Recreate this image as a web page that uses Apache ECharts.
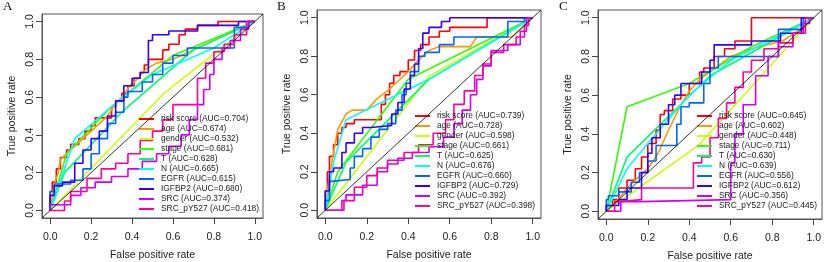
<!DOCTYPE html>
<html>
<head>
<meta charset="utf-8">
<script src="https://cdn.jsdelivr.net/npm/echarts@6/dist/echarts.min.js"></script>
<style>
  html, body { margin: 0; padding: 0; background: #fff; }
  #main { width: 825px; height: 262px; }
</style>
</head>
<body>
<div id="main"></div>
<script>
// curve order is the same in every panel
var markers = ["risk score", "age", "gender", "stage", "T", "N", "EGFR", "IGFBP2", "SRC", "SRC_pY527"];
var stepped = [true, false, false, false, false, false, true, true, true, true];
var lineColors = ["#FF0000", "#FF9900", "#CCFF00", "#33FF00", "#00FF66", "#00FFFF", "#0066FF", "#3300FF", "#CC00FF", "#FF0099"];
var tickValues = [0, 0.2, 0.4, 0.6, 0.8, 1.0];
var panelLetters = ["A", "B", "C"];

var aucA = ["0.704", "0.674", "0.532", "0.681", "0.628", "0.665", "0.615", "0.680", "0.374", "0.418"];
var aucB = ["0.739", "0.728", "0.598", "0.661", "0.625", "0.676", "0.660", "0.729", "0.392", "0.398"];
var aucC = ["0.645", "0.602", "0.448", "0.711", "0.630", "0.639", "0.556", "0.612", "0.356", "0.445"];

// ---- panel A: [false positive rate, true positive rate]
var riskA = [[0,0],[0.01,0.1],[0.03,0.15],[0.05,0.22],[0.08,0.28],[0.1,0.32],[0.14,0.35],[0.17,0.38],[0.2,0.42],[0.22,0.45],[0.3,0.49],[0.32,0.55],[0.35,0.58],[0.38,0.62],[0.41,0.66],[0.44,0.7],[0.46,0.73],[0.48,0.77],[0.55,0.8],[0.58,0.85],[0.63,0.88],[0.66,0.93],[0.72,0.96],[0.82,0.98],[1,1]];
var ageA = [[0,0],[0.01,0.07],[0.02,0.14],[0.04,0.2],[0.05,0.27],[0.08,0.3],[0.12,0.34],[0.16,0.38],[0.2,0.42],[0.24,0.46],[0.28,0.5],[0.31,0.55],[0.35,0.6],[0.39,0.66],[0.43,0.7],[0.47,0.75],[0.52,0.78],[0.6,0.8],[0.7,0.85],[0.8,0.9],[0.9,0.95],[1,1]];
var genderA = [[0,0],[0.55,0.614],[1,1]];
var stageA = [[0,0],[0.08,0.3],[0.3,0.55],[0.6,0.82],[1,1]];
var tA = [[0,0],[0.07,0.2],[0.35,0.52],[0.7,0.85],[1,1]];
var nA = [[0,0],[0.12,0.38],[0.3,0.55],[0.5,0.72],[0.8,0.86],[1,1]];
var egfrA = [[0,0],[0.02,0.1],[0.1,0.14],[0.16,0.16],[0.2,0.22],[0.24,0.3],[0.28,0.38],[0.32,0.46],[0.36,0.52],[0.38,0.6],[0.45,0.63],[0.5,0.68],[0.55,0.72],[0.6,0.78],[0.67,0.82],[0.9,0.86],[0.97,0.97],[1,1]];
var igfbp2A = [[0,0],[0.02,0.08],[0.06,0.13],[0.12,0.15],[0.16,0.25],[0.2,0.32],[0.24,0.38],[0.28,0.42],[0.32,0.5],[0.36,0.58],[0.4,0.66],[0.44,0.7],[0.48,0.73],[0.5,0.9],[0.58,0.93],[0.72,0.95],[0.92,0.98],[1,1]];
var srcA = [[0,0],[0.1,0.03],[0.15,0.08],[0.22,0.12],[0.3,0.15],[0.38,0.18],[0.45,0.22],[0.52,0.26],[0.58,0.3],[0.64,0.34],[0.68,0.4],[0.72,0.48],[0.75,0.56],[0.78,0.64],[0.8,0.72],[0.84,0.8],[0.88,0.86],[0.93,0.9],[0.97,0.96],[1,1]];
var pyA = [[0,0],[0.07,0],[0.1,0.05],[0.18,0.1],[0.25,0.17],[0.32,0.22],[0.38,0.25],[0.44,0.3],[0.5,0.37],[0.55,0.42],[0.6,0.48],[0.72,0.56],[0.76,0.7],[0.8,0.78],[0.85,0.84],[0.9,0.88],[0.96,0.93],[1,1]];

// ---- panel B
var riskB = [[0,0],[0.01,0.1],[0.02,0.2],[0.04,0.28],[0.06,0.34],[0.08,0.4],[0.1,0.43],[0.14,0.45],[0.27,0.47],[0.29,0.55],[0.31,0.6],[0.33,0.66],[0.36,0.7],[0.4,0.72],[0.43,0.78],[0.46,0.83],[0.5,0.86],[0.55,0.9],[0.6,0.93],[0.78,0.95],[0.8,1],[1,1]];
var ageB = [[0,0],[0.02,0.18],[0.04,0.3],[0.06,0.42],[0.1,0.5],[0.13,0.52],[0.2,0.52],[0.25,0.58],[0.3,0.62],[0.35,0.67],[0.4,0.72],[0.45,0.78],[0.5,0.83],[0.55,0.85],[0.7,0.85],[0.73,0.9],[0.9,0.9],[1,1]];
var genderB = [[0,0],[0.5,0.696],[1,1]];
var stageB = [[0,0],[0.06,0.2],[0.4,0.68],[1,1]];
var tB = [[0,0],[0.1,0.25],[0.5,0.68],[1,1]];
var nB = [[0,0],[0.04,0.25],[0.1,0.47],[0.5,0.68],[1,1]];
var egfrB = [[0,0],[0.02,0.05],[0.03,0.15],[0.12,0.16],[0.14,0.22],[0.18,0.28],[0.22,0.32],[0.26,0.38],[0.3,0.42],[0.34,0.45],[0.37,0.52],[0.39,0.6],[0.41,0.66],[0.45,0.72],[0.48,0.8],[0.55,0.82],[0.62,0.86],[0.88,0.9],[0.96,0.98],[1,1]];
var igfbp2B = [[0,0],[0.02,0.1],[0.04,0.2],[0.08,0.22],[0.1,0.3],[0.14,0.35],[0.18,0.4],[0.22,0.43],[0.32,0.44],[0.35,0.5],[0.38,0.56],[0.41,0.63],[0.43,0.7],[0.45,0.76],[0.47,0.84],[0.5,0.92],[0.56,0.95],[0.6,0.98],[0.75,1],[1,1]];
var srcB = [[0,0],[0.08,0],[0.1,0.05],[0.18,0.08],[0.25,0.13],[0.3,0.2],[0.35,0.24],[0.42,0.27],[0.5,0.3],[0.57,0.33],[0.62,0.38],[0.66,0.45],[0.7,0.52],[0.73,0.6],[0.76,0.68],[0.8,0.75],[0.88,0.83],[0.94,0.86],[0.97,0.93],[1,1]];
var pyB = [[0,0],[0.09,0],[0.14,0.05],[0.2,0.12],[0.25,0.18],[0.3,0.22],[0.38,0.26],[0.45,0.3],[0.52,0.34],[0.58,0.4],[0.62,0.47],[0.67,0.55],[0.72,0.62],[0.76,0.7],[0.8,0.76],[0.86,0.82],[0.92,0.86],[0.96,0.9],[0.98,0.96],[1,1]];

// ---- panel C
var riskC = [[0,0],[0.03,0.03],[0.06,0.06],[0.1,0.12],[0.14,0.16],[0.17,0.22],[0.2,0.28],[0.24,0.35],[0.26,0.42],[0.28,0.5],[0.32,0.52],[0.36,0.58],[0.4,0.6],[0.45,0.66],[0.47,0.72],[0.52,0.74],[0.57,0.8],[0.62,0.84],[0.7,0.88],[0.72,1],[1,1]];
var ageC = [[0,0],[0.05,0.05],[0.1,0.12],[0.2,0.22],[0.25,0.3],[0.3,0.42],[0.36,0.55],[0.4,0.62],[0.45,0.68],[0.5,0.72],[0.6,0.8],[0.7,0.84],[0.85,0.88],[0.95,0.95],[1,1]];
var genderC = [[0,0],[0.45,0.346],[1,1]];
var stageC = [[0,0],[0.1,0.54],[0.4,0.66],[0.7,0.85],[1,1]];
var tC = [[0,0],[0.1,0.28],[0.5,0.7],[1,1]];
var nC = [[0,0],[0.1,0.22],[0.2,0.35],[0.4,0.6],[0.6,0.78],[1,1]];
var egfrC = [[0,0],[0.01,0.06],[0.06,0.08],[0.12,0.1],[0.16,0.15],[0.2,0.2],[0.24,0.26],[0.3,0.34],[0.34,0.34],[0.36,0.45],[0.4,0.54],[0.47,0.56],[0.5,0.66],[0.54,0.74],[0.83,0.8],[0.95,0.94],[1,1]];
var igfbp2C = [[0,0],[0.06,0.03],[0.1,0.06],[0.17,0.12],[0.2,0.2],[0.22,0.3],[0.26,0.38],[0.3,0.45],[0.33,0.55],[0.36,0.6],[0.46,0.66],[0.5,0.72],[0.52,0.78],[0.7,0.86],[0.84,0.88],[0.94,0.92],[1,1]];
var srcC = [[0,0],[0.07,0],[0.17,0.05],[0.6,0.06],[0.62,0.25],[0.66,0.4],[0.72,0.55],[0.78,0.7],[0.83,0.8],[0.9,0.85],[0.95,0.92],[0.98,0.97],[1,1]];
var pyC = [[0,0],[0.04,0],[0.07,0.05],[0.17,0.06],[0.42,0.12],[0.46,0.25],[0.5,0.28],[0.54,0.38],[0.58,0.48],[0.62,0.56],[0.66,0.64],[0.7,0.72],[0.76,0.78],[0.83,0.84],[0.9,0.87],[0.96,0.92],[1,1]];

var panels = [
  { curves: [riskA, ageA, genderA, stageA, tA, nA, egfrA, igfbp2A, srcA, pyA], auc: aucA },
  { curves: [riskB, ageB, genderB, stageB, tB, nB, egfrB, igfbp2B, srcB, pyB], auc: aucB },
  { curves: [riskC, ageC, genderC, stageC, tC, nC, egfrC, igfbp2C, srcC, pyC], auc: aucC }
];

// layout of the three plot boxes and their legends
var boxes = [
  { left: 42, top: 14, width: 221, height: 204, legendLeft: 139, legendTop: 114, letterLeft: 3 },
  { left: 317, top: 10, width: 224, height: 208, legendLeft: 415, legendTop: 111, letterLeft: 277 },
  { left: 598, top: 10, width: 224, height: 209, legendLeft: 697, legendTop: 111, letterLeft: 559 }
];

var font = "Liberation Sans, Arial, sans-serif";
var grids = [], xAxes = [], yAxes = [], legends = [], titles = [], series = [];

boxes.forEach(function (b, i) {
  grids.push({ left: b.left, top: b.top, width: b.width, height: b.height,
    containLabel: false, outerBoundsMode: "none",
    show: true, borderColor: "#555", borderWidth: 1 });
  var axisBase = {
    gridIndex: i, type: "value", min: -0.04, max: 1.04,
    axisLine: { show: true, onZero: false, lineStyle: { color: "#555", width: 1 } },
    splitLine: { show: false },
    axisTick: { show: true, customValues: tickValues, length: 6, lineStyle: { color: "#444" } },
    nameLocation: "middle",
    nameMoveOverlap: false,
    nameTextStyle: { fontSize: 10.5, color: "#222", fontFamily: font }
  };
  xAxes.push(Object.assign({}, axisBase, {
    name: "False positive rate", nameGap: 32,
    axisLabel: { customValues: tickValues, margin: 14, fontSize: 10.5, color: "#222", fontFamily: font,
      formatter: function (v) { return v.toFixed(1); } }
  }));
  yAxes.push(Object.assign({}, axisBase, {
    name: "True positive rate", nameGap: 24,
    axisLabel: { customValues: tickValues, margin: 6.5, rotate: 90, fontSize: 10.5, color: "#222", fontFamily: font,
      formatter: function (v) { return v.toFixed(1); } }
  }));
  titles.push({ text: panelLetters[i], left: b.letterLeft, top: 0, padding: 0,
    textStyle: { fontFamily: "Liberation Serif, Times New Roman, serif", fontSize: 13, fontWeight: "normal", color: "#111" } });

  var p = panels[i];
  var names = [];
  p.curves.forEach(function (pts, k) {
    var nm = markers[k] + " (AUC=" + p.auc[k] + ")";
    names.push(nm);
    series.push({
      name: nm, type: "line", xAxisIndex: i, yAxisIndex: i,
      data: pts, step: stepped[k] ? "start" : false,
      symbol: "none", silent: true,
      lineStyle: { width: 1.6, color: lineColors[k] },
      itemStyle: { color: lineColors[k] }
    });
  });
  // reference diagonal, corner to corner of the box
  series.push({
    type: "line", xAxisIndex: i, yAxisIndex: i, silent: true, symbol: "none", z: 5,
    data: [[-0.04, -0.04], [1.04, 1.04]],
    lineStyle: { width: 0.8, color: "#000" }
  });
  legends.push({
    data: names, orient: "vertical", left: b.legendLeft, top: b.legendTop,
    icon: "rect", itemWidth: 15, itemHeight: 2, itemGap: 0, padding: 0,
    selectedMode: false,
    textStyle: { fontSize: 8.4, lineHeight: 10, color: "#222", fontFamily: font, padding: [0, 0, 0, 2] }
  });
});

var myChart = echarts.init(document.getElementById("main"));
myChart.setOption({
  animation: false,
  backgroundColor: "#fff",
  textStyle: { fontFamily: font },
  title: titles,
  grid: grids,
  xAxis: xAxes,
  yAxis: yAxes,
  legend: legends,
  series: series
});
</script>
</body>
</html>
